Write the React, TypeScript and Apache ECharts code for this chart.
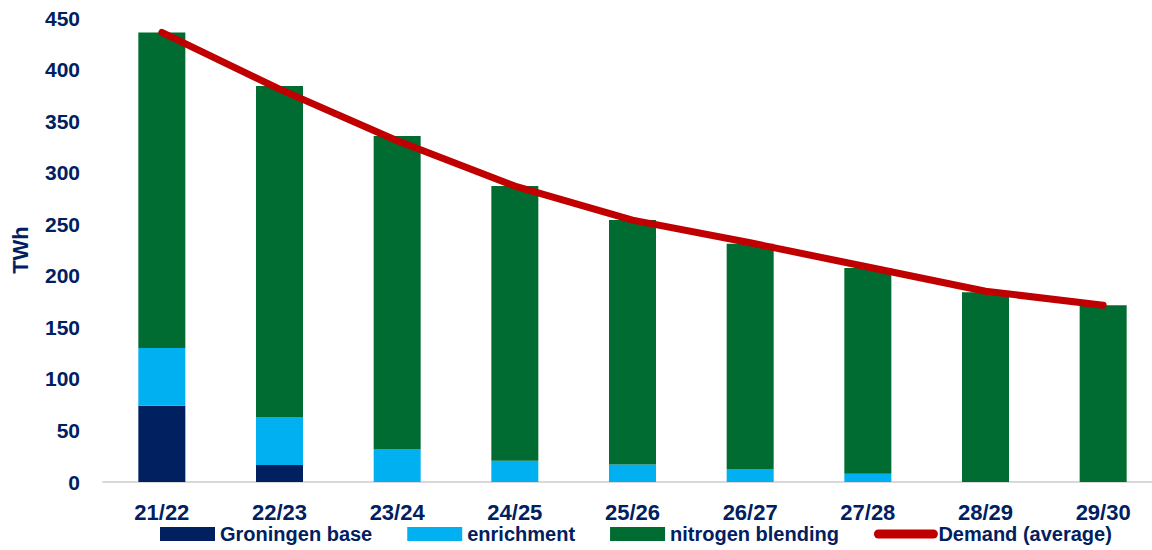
import React, { useEffect, useRef } from "react";
import * as echarts from "echarts";

const categories = ["21/22", "22/23", "23/24", "24/25", "25/26", "26/27", "27/28", "28/29", "29/30"];
const groningenBase = [74, 16.5, 0, 0, 0, 0, 0, 0, 0];
const enrichment = [56, 46.5, 32, 20.5, 17, 12.5, 8, 0, 0];
const nitrogenBlending = [306, 321, 303.5, 266.5, 237, 218.5, 199.5, 184, 171.5];
const demandAverage = [436, 381, 331, 287, 254, 232, 208.5, 185, 171.5];

const NAVY = "#002060";
const FONT = "'Liberation Sans', Arial, sans-serif";

export default function App() {
  const ref = useRef<HTMLDivElement>(null);
  useEffect(() => {
    if (!ref.current) return;
    const chart = echarts.init(ref.current, null, { renderer: "svg" });
    const barCommon = { type: "bar", stack: "total", barWidth: 47 };
    chart.setOption({
      animation: false,
      textStyle: { fontFamily: FONT },
      grid: { left: 103, right: 0, top: 18, bottom: 68, containLabel: false },
      legend: {
        left: 160,
        top: 524,
        padding: 0,
        itemWidth: 55,
        itemHeight: 14,
        itemGap: 35,
        textStyle: { fontSize: 20, fontWeight: "bold", color: NAVY, fontFamily: FONT },
        data: [
          { name: "Groningen base", icon: "rect" },
          { name: "enrichment", icon: "rect" },
          { name: "nitrogen blending", icon: "rect" },
          {
            name: "Demand (average)",
            itemStyle: { opacity: 0 },
            lineStyle: { width: 9, cap: "round", color: "#C00000" },
          },
        ],
      },
      xAxis: {
        type: "category",
        data: categories,
        axisLine: { lineStyle: { color: "#d9d9d9", width: 2 } },
        axisTick: { show: false },
        axisLabel: { fontSize: 22, fontWeight: "bold", color: NAVY, margin: 19 },
      },
      yAxis: {
        type: "value",
        min: 0,
        max: 450,
        interval: 50,
        name: "TWh",
        nameLocation: "middle",
        nameGap: 72,
        nameTextStyle: { fontSize: 22, fontWeight: "bold", color: NAVY },
        axisLine: { show: false },
        axisTick: { show: false },
        splitLine: { show: false },
        axisLabel: { fontSize: 21, fontWeight: "bold", color: NAVY, margin: 23 },
      },
      series: [
        { ...barCommon, name: "Groningen base", data: groningenBase, itemStyle: { color: NAVY } },
        { ...barCommon, name: "enrichment", data: enrichment, itemStyle: { color: "#00B0F0" } },
        { ...barCommon, name: "nitrogen blending", data: nitrogenBlending, itemStyle: { color: "#006C31" } },
        {
          type: "line",
          name: "Demand (average)",
          data: demandAverage,
          symbol: "none",
          lineStyle: { color: "#C00000", width: 7, cap: "round", join: "round" },
          itemStyle: { color: "#C00000" },
        },
      ],
    });
    return () => chart.dispose();
  }, []);
  return (
    <div style={{ position: "absolute", left: 0, top: 0, width: 1152, height: 550, overflow: "hidden" }}>
      <div ref={ref} style={{ width: 1162, height: 550 }} />
    </div>
  );
}
